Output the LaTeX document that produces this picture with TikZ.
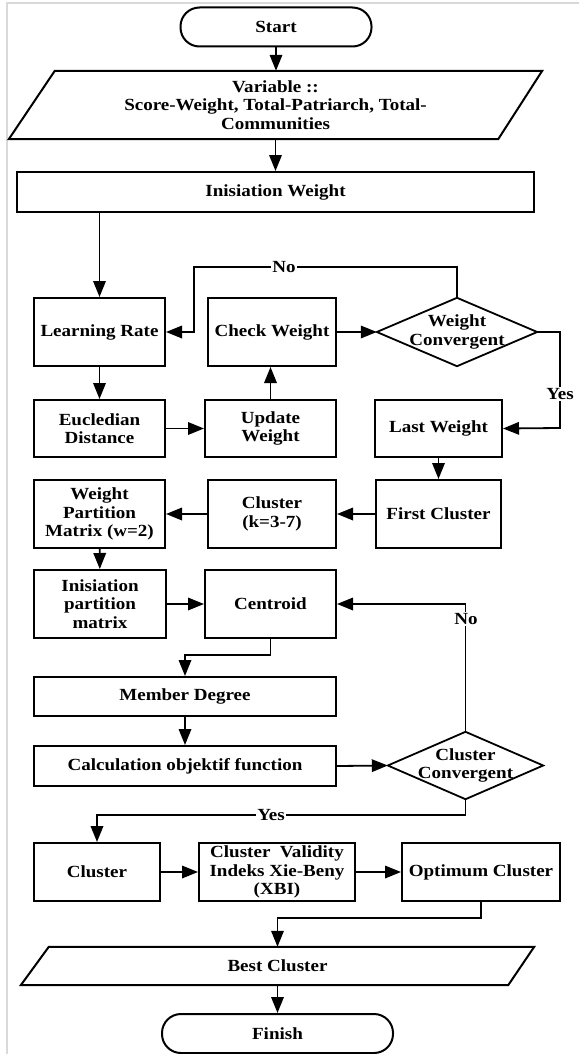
\documentclass[tikz,border=0pt]{standalone}
\usepackage{fontspec}
\setmainfont{Liberation Serif}[FakeStretch=1.12]
\usetikzlibrary{arrows.meta}
\tikzset{
  txt/.style={align=center, font=\fontsize{17}{18.5}\selectfont\bfseries, inner sep=0pt},
  pbox/.style={txt, draw, line width=2pt},
  term/.style={pbox, rounded corners=19pt},
  sline/.style={line width=2pt, line join=miter},
  dline/.style={line width=1.8pt, line join=miter},
  conn/.style={line width=1.8pt, -{Triangle[length=16pt,width=12.5pt]}},
  lbl/.style={txt, fill=white, inner sep=1pt}
}
\begin{document}
\begin{tikzpicture}[x=1pt,y=-1pt]
\useasboundingbox (0,0) rectangle (579,1054);
\fill[white] (0,0) rectangle (579,1054);
\draw[gray!30, line width=1.2pt] (7,1054) -- (7,3) -- (579,3);

% nodes
\node[term, minimum width=191pt, minimum height=39pt] (start) at (276,27) {Start};
\node[txt, minimum width=533pt, minimum height=68pt] (var) at (275.5,105) {Variable ::\\Score-Weight, Total-Patriarch, Total-\\Communities};
\draw[sline] ([xshift=46pt]var.north west) -- (var.north east) -- ([xshift=-44pt]var.south east) -- (var.south west) -- cycle;
\node[pbox, minimum width=517pt, minimum height=40pt] (initw) at (275.5,192) {Inisiation Weight};

\node[pbox, minimum width=131pt, minimum height=68pt] (lr) at (99.5,332) {Learning Rate};
\node[pbox, minimum width=128pt, minimum height=68pt] (cw) at (272,332) {Check Weight};
\node[txt, minimum width=160pt, minimum height=68pt] (wc) at (457,332) {Weight\\Convergent};
\draw[dline] (wc.west) -- (wc.north) -- (wc.east) -- (wc.south) -- cycle;

\node[pbox, minimum width=131pt, minimum height=57pt] (ed) at (99.5,428.5) {Eucledian\\Distance};
\node[pbox, minimum width=131pt, minimum height=57pt] (uw) at (270.5,428.5) {Update\\Weight};
\node[pbox, minimum width=127pt, minimum height=57pt] (lw) at (438.5,428.5) {Last Weight};

\node[pbox, minimum width=131pt, minimum height=68pt] (wpm) at (99.5,514) {Weight\\Partition\\Matrix (w=2)};
\node[pbox, minimum width=128pt, minimum height=68pt] (ck) at (272,514) {Cluster\\(k=3-7)};
\node[pbox, minimum width=125pt, minimum height=68pt] (fc) at (438.5,514) {First Cluster};

\node[pbox, minimum width=132pt, minimum height=68pt] (ipm) at (100,604) {Inisiation\\partition\\matrix};
\node[pbox, minimum width=131pt, minimum height=68pt] (cen) at (270.5,604) {Centroid};

\node[pbox, minimum width=302pt, minimum height=39pt] (md) at (185,696.5) {Member Degree};
\node[pbox, minimum width=302pt, minimum height=40pt] (calc) at (185,766) {Calculation objektif function};
\node[txt, minimum width=155pt, minimum height=67pt] (cc) at (465.5,765.5) {Cluster\\Convergent};
\draw[dline] (cc.west) -- (cc.north) -- (cc.east) -- (cc.south) -- cycle;

\node[pbox, minimum width=126pt, minimum height=58pt] (cl) at (97,872) {Cluster};
\node[pbox, minimum width=156pt, minimum height=58pt] (cv) at (277,872) {Cluster\ \ Validity\\Indeks Xie-Beny\\(XBI)};
\node[pbox, minimum width=158pt, minimum height=58pt] (oc) at (481,872) {Optimum Cluster};

\node[txt, minimum width=513pt, minimum height=38pt] (best) at (277.5,966) {Best Cluster};
\draw[sline] ([xshift=28pt]best.north west) -- (best.north east) -- ([xshift=-26pt]best.south east) -- (best.south west) -- cycle;
\node[term, minimum width=231pt, minimum height=39pt] (fin) at (277.5,1033.5) {Finish};

% connectors
\coordinate (noA) at (194,267);
\coordinate (yesA) at (560,428);
\draw[conn] (start) -- (start.south |- var.north);
\draw[conn] (var.south -| initw.north) -- (initw.north);
\draw[conn] (initw.south -| lr.north) -- (lr.north);
\draw[conn] (lr) -- (ed);
\draw[conn] (ed) -- (uw);
\draw[conn] (uw.north) -- (uw.north |- cw.south);
\draw[conn] (cw) -- (wc.west);
\draw[conn] (wc.north) |- (noA) |- (lr.east);
\draw[conn] (wc.east) -| (yesA) -- (lw.east);
\draw[conn] (lw.south) -- (lw.south |- fc.north);
\draw[conn] (fc) -- (ck);
\draw[conn] (ck) -- (wpm);
\draw[conn] (wpm) -- (ipm);
\draw[conn] (ipm) -- (cen);
\draw[conn] (cen.south) -- ++(0,16) -| (md.north);
\draw[conn] (md) -- (calc);
\draw[conn] (calc.east) -- (cc.west);
\draw[conn] (cc.north) |- (cen.east);
\draw[conn] (cc.south) -- ++(0,16) -| (cl.north);
\draw[conn] (cl) -- (cv);
\draw[conn] (cv) -- (oc);
\draw[conn] (oc.south) -- ++(0,16) -| (best.north);
\draw[conn] (best.south) -- (fin.north);

% labels
\node[lbl] (no1) at (284,267) {No};
\node[lbl] (yes1) at (560,394) {Yes};
\node[lbl] (no2) at (466,619) {No};
\node[lbl] (yes2) at (271,815) {Yes};
\end{tikzpicture}
\end{document}
